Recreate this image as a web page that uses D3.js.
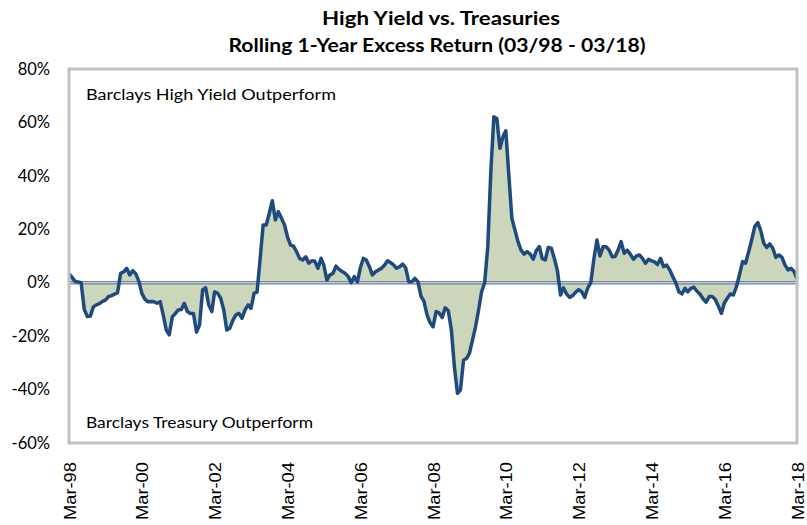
<!DOCTYPE html>
<html>
<head>
<meta charset="utf-8">
<script src="https://cdn.jsdelivr.net/npm/d3@7/dist/d3.min.js"></script>
<style>
  html, body { margin: 0; padding: 0; background: #ffffff; }
  svg { display: block; }
</style>
</head>
<body>
<div id="chart"></div>
<script>
// Rolling 1-year excess return of high yield over Treasuries, monthly from Mar-98 to Mar-18 (%)
const startMonth = "1998-03";
const excessReturn = [
  3.3, 2.0, 0.5, 0.3, 0.0, -10, -12.7, -12.5, -9, -8.3,
  -7.8, -7, -6.5, -5.2, -4.8, -4.3, -3.7, 3.5, 4.1, 5.4,
  2.9, 4.5, 3.3, 0.4, -4, -6.2, -7.1, -7.0, -7.1, -7.7,
  -7.1, -12, -17.7, -19.5, -12.7, -11.5, -10.2, -10, -7.7, -10.8,
  -11.5, -11.5, -18.5, -15.8, -2.7, -1.9, -8.3, -10.8, -3.4, -4,
  -5.8, -10.2, -17.7, -17, -14, -12, -11.5, -13.3, -10.2, -8.3,
  -9.6, -4, -3.5, 9, 21.6, 21.6, 26, 30.7, 23.5, 26.6,
  24.1, 21.6, 17.2, 14.1, 13.7, 11.6, 9.1, 8.5, 9.7, 7.3,
  8.2, 8, 5.4, 9.1, 6.6, 1, 2.9, 3.5, 6.2, 5,
  4.2, 3.5, 2.3, 0, 2.3, 0.3, 5.4, 9.1, 8.5, 6,
  2.9, 4.1, 4.8, 5.4, 6.6, 8.2, 7.5, 6.6, 5.4, 6,
  7, 5.5, 0.4, 0.4, 1.6, 0.4, -5, -7, -12, -15,
  -16.5, -10.8, -11.3, -13, -9.4, -10.5, -17.7, -31.4, -41.4, -40.2,
  -29, -28.3, -26.4, -21.5, -16.5, -10.2, -3.4, 0, 13.5, 41,
  62.1, 61.5, 50.3, 54.7, 56.9, 40, 24.1, 19.7, 15.4, 12.2,
  10.7, 11.6, 10.7, 8.8, 12, 13.5, 9.1, 8.5, 13.2, 12.9,
  9.1, 4.5, -4.6, -1.9, -4.2, -5.5, -4.8, -3.5, -2.6, -3.4,
  -5.5, -1.9, 0, 9, 16, 10, 13.5, 13.5, 12.2, 9.7,
  9.8, 12.2, 15.4, 11, 12.2, 10.7, 8.8, 10, 10.4, 9.1,
  7.3, 8.8, 8.2, 7.8, 6.8, 9.1, 6, 6.6, 4.8, 2.3,
  0, -3.4, -4.2, -2.1, -3.4, -2.1, -1.7, -3.2, -4.2, -6,
  -7.3, -5.2, -5.2, -6.2, -8.7, -11.5, -7.7, -5.8, -4.2, -4.6,
  -1.5, 3, 7.9, 7.3, 11.6, 16, 21, 22.5, 19.7, 14.8,
  13.2, 14.5, 12.9, 9.5, 10.4, 9.5, 6.6, 4.8, 5.4, 4.1,
  1.5
];

const xTickMonths = ["1998-03", "2000-03", "2002-03", "2004-03", "2006-03", "2008-03",
                     "2010-03", "2012-03", "2014-03", "2016-03", "2018-03"];
const xTickLabels = ["Mar-98", "Mar-00", "Mar-02", "Mar-04", "Mar-06", "Mar-08",
                     "Mar-10", "Mar-12", "Mar-14", "Mar-16", "Mar-18"];
const yTicks = [80, 60, 40, 20, 0, -20, -40, -60];
const titleLines = ["High Yield vs. Treasuries", "Rolling 1-Year Excess Return (03/98 - 03/18)"];
const upperNote = "Barclays High Yield Outperform";
const lowerNote = "Barclays Treasury Outperform";

const W = 807, H = 525;
const margin = { top: 69, right: 10, bottom: 82, left: 69 };
const innerW = W - margin.left - margin.right;
const innerH = H - margin.top - margin.bottom;

const parseMonth = d3.timeParse("%Y-%m");
const start = parseMonth(startMonth);
const series = excessReturn.map((v, i) => ({ date: d3.timeMonth.offset(start, i), value: v }));

const x = d3.scaleTime()
  .domain([parseMonth(xTickMonths[0]), parseMonth(xTickMonths[xTickMonths.length - 1])])
  .range([0, innerW]);
const y = d3.scaleLinear().domain([-60, 80]).range([innerH, 0]);

const svg = d3.select("#chart").append("svg")
  .attr("width", W).attr("height", H);

const bodyFont = "Lato, 'Open Sans', 'DejaVu Sans', sans-serif";

// Title
const title = svg.append("g").attr("font-family", bodyFont).attr("font-weight", "bold")
  .attr("fill", "#000").attr("text-anchor", "middle");
title.append("text").attr("x", 441).attr("y", 25).attr("font-size", 19)
  .attr("textLength", 238).attr("lengthAdjust", "spacingAndGlyphs").text(titleLines[0]);
title.append("text").attr("x", 437).attr("y", 52).attr("font-size", 19)
  .attr("textLength", 417).attr("lengthAdjust", "spacingAndGlyphs").text(titleLines[1]);

const g = svg.append("g").attr("transform", `translate(${margin.left},${margin.top})`);

// Shaded area between the series and zero
const area = d3.area()
  .x(d => x(d.date))
  .y0(y(0))
  .y1(d => y(d.value));
g.append("path").datum(series)
  .attr("d", area)
  .attr("fill", "#cbd6bb");

// Zero line
g.append("line")
  .attr("x1", 0).attr("x2", innerW).attr("y1", y(0)).attr("y2", y(0))
  .attr("stroke", "#70839e").attr("stroke-width", 3.6);
g.append("line")
  .attr("x1", 0).attr("x2", innerW).attr("y1", y(0)).attr("y2", y(0))
  .attr("stroke", "#c9d1dd").attr("stroke-width", 1.2);

// Series line
const line = d3.line()
  .x(d => x(d.date))
  .y(d => y(d.value));
g.append("path").datum(series)
  .attr("d", line)
  .attr("fill", "none")
  .attr("stroke", "#1f4a7f")
  .attr("stroke-width", 3.5)
  .attr("stroke-linejoin", "round");

// Plot frame
g.append("rect")
  .attr("x", 0).attr("y", 0).attr("width", innerW).attr("height", innerH)
  .attr("fill", "none").attr("stroke", "#c0c0c0").attr("stroke-width", 3);

// Y axis labels
const yAxis = d3.axisLeft(y).tickValues(yTicks).tickSize(0).tickPadding(19)
  .tickFormat(d => d + "%");
const yG = g.append("g").call(yAxis);
yG.select(".domain").remove();
yG.selectAll("text")
  .attr("font-family", bodyFont).attr("font-size", 16.5).attr("fill", "#000");

// X axis labels, rotated
const xAxis = d3.axisBottom(x)
  .tickValues(xTickMonths.map(parseMonth))
  .tickSize(0)
  .tickFormat((d, i) => xTickLabels[i]);
const xG = g.append("g").attr("transform", `translate(0,${innerH})`).call(xAxis);
xG.select(".domain").remove();
xG.selectAll("text")
  .attr("font-family", "'Liberation Sans Narrow', 'Arial Narrow', 'Liberation Sans', sans-serif")
  .attr("font-size", 17)
  .attr("fill", "#000")
  .attr("text-anchor", "end")
  .attr("transform", "rotate(-90)")
  .attr("x", -19)
  .attr("y", 0)
  .attr("dy", "0.36em")
  .attr("textLength", 58)
  .attr("lengthAdjust", "spacingAndGlyphs");

// Region notes
g.append("text").attr("x", 17).attr("y", 31)
  .attr("font-family", bodyFont).attr("font-size", 15.5).attr("fill", "#000")
  .attr("textLength", 250).attr("lengthAdjust", "spacingAndGlyphs")
  .text(upperNote);
g.append("text").attr("x", 17).attr("y", 359)
  .attr("font-family", bodyFont).attr("font-size", 15.5).attr("fill", "#000")
  .attr("textLength", 227).attr("lengthAdjust", "spacingAndGlyphs")
  .text(lowerNote);
</script>
</body>
</html>
